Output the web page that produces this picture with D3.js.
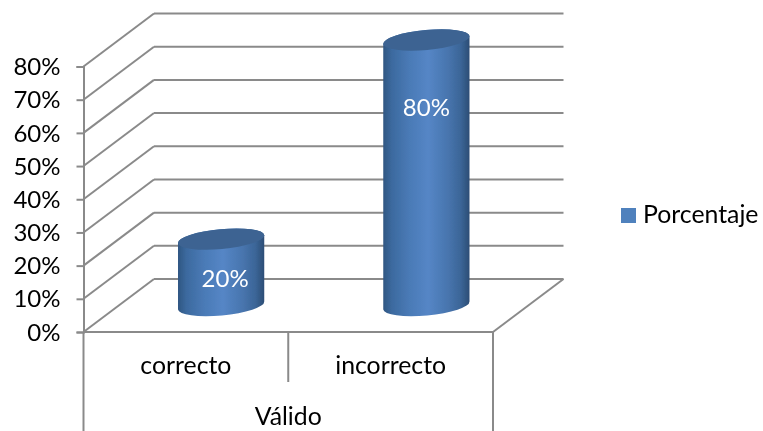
<!DOCTYPE html>
<html><head><meta charset="utf-8">
<script src="https://cdn.jsdelivr.net/npm/d3@7/dist/d3.min.js"></script>
<style>html,body{margin:0;padding:0;background:#fff}svg{display:block}text{font-family:Lato,"Open Sans",sans-serif}</style>
</head><body><div id="c"></div>
<script>
const categories = ["correcto", "incorrecto"];
const values = [20, 80];
const valueLabels = ["20%", "80%"];
const yTicks = [0, 10, 20, 30, 40, 50, 60, 70, 80];
const groupLabel = "Válido";
const seriesName = "Porcentaje";

const W = 763, H = 431;
const fs = 24.8, fsTick = 24, grid = "#8a8a8a";
const depth = {dx: 70.5, dy: -53};
const x = d3.scaleBand().domain(categories).range([83.5, 493]);
const y = d3.scaleLinear().domain([0, 80]).range([332, 66.5]);
const labelY = d3.scaleLinear().domain([20, 80]).range([287, 116]);

const svg = d3.select("#c").append("svg").attr("width", W).attr("height", H);
const defs = svg.append("defs");
const g = defs.append("linearGradient").attr("id", "body").attr("x1", 0).attr("x2", 1).attr("y1", 0).attr("y2", 0);
[[0, "#2f5682"], [0.1, "#3c6a9f"], [0.3, "#4a7ab6"], [0.52, "#5586c6"], [0.75, "#4875ae"], [0.9, "#3b6597"], [1, "#2c4d75"]]
  .forEach(([o, c]) => g.append("stop").attr("offset", o).attr("stop-color", c));
defs.append("filter").attr("id", "soft").attr("x", "-5%").attr("y", "-5%").attr("width", "110%").attr("height", "110%")
  .append("feGaussianBlur").attr("stdDeviation", 0.35);

const root = svg.append("g").attr("filter", "url(#soft)");
const line = (x1, y1, x2, y2) => root.append("line").attr("x1", x1).attr("y1", y1).attr("x2", x2).attr("y2", y2)
  .attr("stroke", grid).attr("stroke-width", 2);

const x0 = x.range()[0], x1 = x.range()[1];
yTicks.forEach(t => {
  line(x0, y(t), x0 + depth.dx, y(t) + depth.dy);
  line(x0 + depth.dx, y(t) + depth.dy, x1 + depth.dx, y(t) + depth.dy);
});
line(x1, y(0), x1 + depth.dx, y(0) + depth.dy);
line(x0, y(0), x1, y(0));

const axis = root.append("g").attr("transform", `translate(${x0},0)`)
  .call(d3.axisLeft(y).tickValues(yTicks).tickSize(7).tickPadding(16).tickFormat(d => d + "%"));
axis.selectAll("path").attr("stroke", grid).attr("stroke-width", 2);
axis.selectAll("line").attr("stroke", grid).attr("stroke-width", 2);
axis.selectAll("text").attr("font-size", fsTick).attr("fill", "#000").style("font-family", 'Lato,"Open Sans",sans-serif')
  .attr("dy", "0.34em");

line(x0, y(0), x0, H);
line(x1, y(0), x1, H);
line(x(categories[1]), y(0), x(categories[1]), 382);
root.selectAll(".cat").data(categories).join("text").attr("class", "cat")
  .attr("x", d => x(d) + x.bandwidth() / 2).attr("y", 374)
  .attr("text-anchor", "middle").attr("font-size", fs).attr("fill", "#000").text(d => d);
root.append("text").attr("x", (x0 + x1) / 2).attr("y", 425).attr("text-anchor", "middle")
  .attr("font-size", fs).attr("fill", "#000").text(groupLabel);

const rx = 43.3, ry = 10, rot = -5.3, rad = rot * Math.PI / 180;
const ex = rx * Math.cos(rad), ey = rx * Math.sin(rad);
const floorOffset = {dx: depth.dx / 2, dy: depth.dy / 2};
categories.forEach((c, i) => {
  const cx = x(c) + x.bandwidth() / 2 + floorOffset.dx + (i === 1 ? 0.5 : 0);
  const by = y(0) + floorOffset.dy;
  const ty = by - (y(0) - y(values[i]));
  root.append("path").attr("fill", "url(#body)")
    .attr("d", `M${cx - ex},${ty - ey}L${cx - ex},${by - ey}A${rx},${ry} ${rot} 0 0 ${cx + ex},${by + ey}L${cx + ex},${ty + ey}A${rx},${ry} ${rot} 0 0 ${cx - ex},${ty - ey}Z`);
  root.append("ellipse").attr("transform", `translate(${cx},${ty}) rotate(${rot})`)
    .attr("rx", rx).attr("ry", ry).attr("fill", "#3d6492");
  root.append("text").attr("x", cx + (i === 0 ? 4 : 0)).attr("y", labelY(values[i]))
    .attr("text-anchor", "middle").attr("font-size", fsTick).attr("fill", "#fff").text(valueLabels[i]);
});

root.append("rect").attr("x", 621).attr("y", 208).attr("width", 15).attr("height", 15).attr("fill", "#4f81bd");
root.append("text").attr("x", 643).attr("y", 223).attr("font-size", fs).attr("fill", "#000").text(seriesName);
</script></body></html>
